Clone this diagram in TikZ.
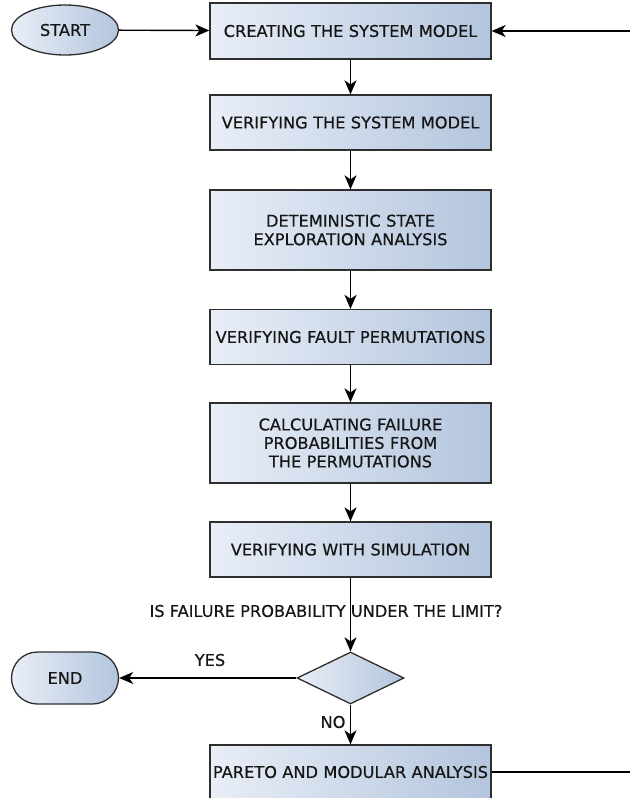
\documentclass[tikz,border=0pt]{standalone}
\usepackage{fontspec}
\setmainfont{DejaVu Sans}[FakeBold=0.5]
\usetikzlibrary{shapes.geometric,arrows.meta}
\definecolor{edgegray}{HTML}{2E2E2E}
\definecolor{fillA}{HTML}{E9EEF7}
\definecolor{fillB}{HTML}{B3C5DD}
\definecolor{inkgray}{HTML}{161616}
\tikzset{
  grad/.style={left color=fillA, right color=fillB, draw=edgegray, line width=1.3pt},
  procbox/.style={grad, rectangle, minimum width=281pt, text width=279pt, align=center, inner sep=1pt},
  termell/.style={grad, ellipse, minimum width=107pt, minimum height=50pt, inner sep=0pt},
  termround/.style={grad, rectangle, rounded corners=26pt, minimum width=107pt, minimum height=52pt, inner sep=0pt},
  decide/.style={grad, diamond, aspect=1.9, minimum width=107pt, minimum height=52pt, inner sep=0pt},
  lbl/.style={text=inkgray, inner sep=0pt},
  flow/.style={draw=black, line width=1.4pt, -{Stealth[length=14pt,width=12pt,inset=4pt]}},
  plain/.style={draw=black, line width=1.4pt}
}
\begin{document}
\begin{tikzpicture}[x=1pt, y=-1pt, font=\fontsize{16.2}{18.5}\selectfont, text=inkgray]
  \useasboundingbox (0,0) rectangle (630,798);

  % terminals and process steps
  \node[termell] (start) at (65,30) {START};
  \node[procbox, minimum height=56pt] (create) at (350.5,31) {CREATING THE SYSTEM MODEL};
  \node[procbox, minimum height=55pt] (verify) at (350.5,122.5) {VERIFYING THE SYSTEM MODEL};
  \node[procbox, minimum height=80pt] (explore) at (350.5,230) {DETEMINISTIC STATE\\EXPLORATION ANALYSIS};
  \node[procbox, minimum height=55pt] (faults) at (350.5,337) {VERIFYING FAULT PERMUTATIONS};
  \node[procbox, minimum height=80pt] (calc) at (350.5,443) {CALCULATING FAILURE\\PROBABILITIES FROM\\THE PERMUTATIONS};
  \node[procbox, minimum height=55pt] (sim) at (350.5,549.5) {VERIFYING WITH SIMULATION};
  \node[decide] (check) at (350.5,678) {};
  \node[termround] (finish) at (65,678) {END};
  \node[procbox, minimum height=54pt] (pareto) at (350.5,772) {PARETO AND MODULAR ANALYSIS};

  % loop-back ends at the right margin
  \coordinate (loopin) at (630,31);
  \coordinate (loopout) at (630,772);

  % connectors
  \draw[flow] (start) -- (create);
  \draw[flow] (loopin) -- (create.east);
  \draw[flow] (create) -- (verify);
  \draw[flow] (verify) -- (explore);
  \draw[flow] (explore) -- (faults);
  \draw[flow] (faults) -- (calc);
  \draw[flow] (calc) -- (sim);
  \draw[flow] (sim) -- (check.north);
  \draw[flow] (check.west) -- (finish.east);
  \draw[flow] (check.south) -- (pareto.north);
  \draw[plain] (pareto.east) -- (loopout);

  % labels
  \node[lbl] (question) at (326,611) {IS FAILURE PROBABILITY UNDER THE LIMIT?};
  \node[lbl] (yes) at (210,660) {YES};
  \node[lbl] (no) at (333,722) {NO};
\end{tikzpicture}
\end{document}
